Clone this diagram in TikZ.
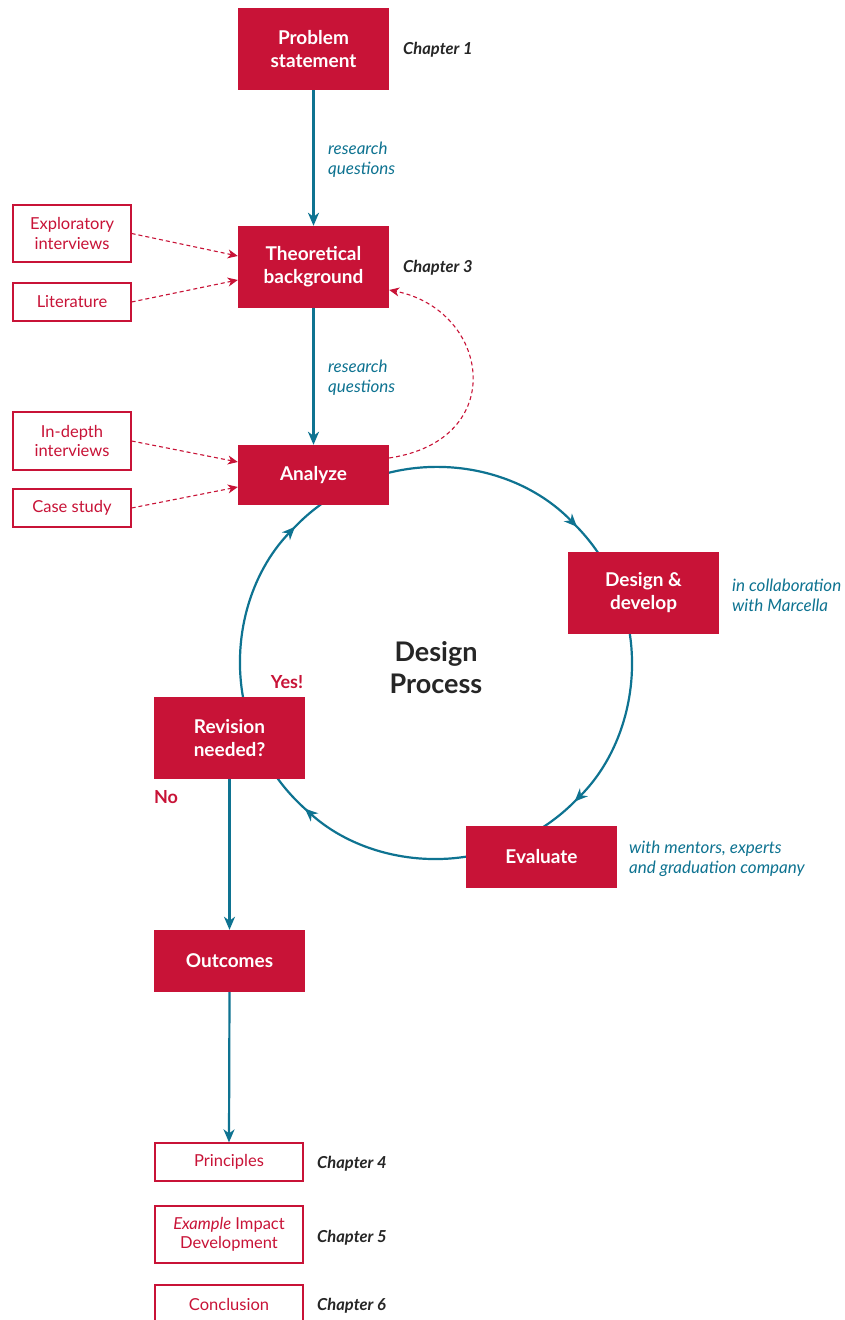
\documentclass[tikz,border=0pt]{standalone}
\usepackage{fontspec}
\setmainfont{Lato}
\usetikzlibrary{arrows.meta,calc}
\definecolor{cred}{HTML}{C81337}
\definecolor{cteal}{HTML}{0E7391}
\definecolor{cdark}{HTML}{262626}
\begin{document}
\begin{tikzpicture}[x=1pt,y=1pt,
  redbox/.style={fill=cred, text=white, font=\fontsize{19}{23}\selectfont\bfseries, align=center, minimum width=151pt, inner sep=0pt},
  outbox/.style={draw=cred, line width=1.2pt, text=cred, font=\fontsize{16.5}{19.5}\selectfont, align=center, inner sep=0pt},
  chap/.style={text=cdark, font=\fontsize{16.5}{19}\selectfont\bfseries\itshape, anchor=west, inner sep=0pt},
  note/.style={text=cteal, font=\fontsize{17}{20}\selectfont\itshape, anchor=west, align=left, inner sep=0pt},
  flow/.style={draw=cteal, line width=2.2pt, -{Stealth[length=13pt,width=11pt,inset=4pt]}},
  flowline/.style={draw=cteal, line width=2.2pt},
  dasharrow/.style={draw=cred, line width=1.1pt, dash pattern=on 4pt off 3pt, -{Stealth[length=10pt,width=9pt,inset=3pt]}},
  ans/.style={text=cred, font=\fontsize{18}{20}\selectfont\bfseries, inner sep=0pt}
]
\clip (0,0) rectangle (845,1320);
\fill[white] (0,0) rectangle (845,1320);

% cycle arcs (drawn first, boxes cover their ends)
\coordinate (C) at (436,657);
\draw[flow] ($(C)+(106:196)$) arc[start angle=106, end angle=44, radius=196];
\draw[flowline] ($(C)+(45:196)$) arc[start angle=45, end angle=30, radius=196];
\draw[flow] ($(C)+(10:196)$) arc[start angle=10, end angle=-45, radius=196];
\draw[flowline] ($(C)+(-44:196)$) arc[start angle=-44, end angle=-60, radius=196];
\draw[flow] ($(C)+(-78:196)$) arc[start angle=-78, end angle=-132, radius=196];
\draw[flowline] ($(C)+(-131:196)$) arc[start angle=-131, end angle=-148, radius=196];
\draw[flow] ($(C)+(-168:196)$) arc[start angle=-168, end angle=-224, radius=196];
\draw[flowline] ($(C)+(-223:196)$) arc[start angle=-223, end angle=-240, radius=196];

% main boxes
\node[redbox, minimum height=82pt] (prob) at (313.5,1271) {Problem\\statement};
\node[redbox, minimum height=82pt] (theo) at (313.5,1053) {Theoretical\\background};
\node[redbox, minimum height=60pt] (an) at (313.5,845) {Analyze};
\node[redbox, minimum height=82pt] (dd) at (643.5,727) {Design \&\\develop};
\node[redbox, minimum height=82pt] (rev) at (229.5,582) {Revision\\needed?};
\node[redbox, minimum height=62pt] (ev) at (541.5,463) {Evaluate};
\node[redbox, minimum height=62pt] (out) at (229.5,359) {Outcomes};

% input boxes
\node[outbox, minimum width=118pt, minimum height=57pt] (expl) at (72,1086.5) {Exploratory\\interviews};
\node[outbox, minimum width=118pt, minimum height=38pt] (lit) at (72,1018) {Literature};
\node[outbox, minimum width=118pt, minimum height=58pt] (indep) at (72,879) {In-depth\\interviews};
\node[outbox, minimum width=118pt, minimum height=38pt] (case) at (72,812) {Case study};

% result boxes
\node[outbox, minimum width=148pt, minimum height=38pt] (prin) at (229,158) {Principles};
\node[outbox, minimum width=148pt, minimum height=57pt] (ex) at (229,85.5) {\textit{Example} Impact\\Development};
\node[outbox, minimum width=148pt, minimum height=38pt] (conc) at (229,16) {Conclusion};

% chapter labels
\node[chap] (c1) at (403,1270) {Chapter 1};
\node[chap] (c3) at (403,1052) {Chapter 3};
\node[chap] (c4) at (317,156) {Chapter 4};
\node[chap] (c5) at (317,82) {Chapter 5};
\node[chap] (c6) at (317,14) {Chapter 6};

% notes
\node[note] (rq1) at (328,1160) {research\\questions};
\node[note] (rq2) at (328,942) {research\\questions};
\node[note] (collab) at (732,725) {in collaboration\\with Marcella};
\node[note] (ment) at (629,461) {with mentors, experts\\and graduation company};

\node[ans] (yes) at (287,638) {Yes!};
\node[ans] (no) at (166,523) {No};

\node[text=cdark, font=\fontsize{27}{32}\selectfont\bfseries, align=center, inner sep=0pt] (dp) at (436,652) {Design\\Process};

% straight flows
\draw[flow] (prob.south) -- (theo.north);
\draw[flow] (theo.south) -- (an.north);
\draw[flow] (rev.south) -- (out.north);
\draw[flow] (out.south) -- (prin.north);

% dashed inputs
\draw[dasharrow] (expl.east) -- ([yshift=11pt]theo.west);
\draw[dasharrow] (lit.east) -- ([yshift=-13pt]theo.west);
\draw[dasharrow] (indep.east) -- ([yshift=13pt]an.west);
\draw[dasharrow] (case.east) -- ([yshift=-12pt]an.west);
\draw[dasharrow] ([yshift=17pt]an.east) .. controls (510,880) and (490,1010) .. ([yshift=-23pt]theo.east);
\end{tikzpicture}
\end{document}
